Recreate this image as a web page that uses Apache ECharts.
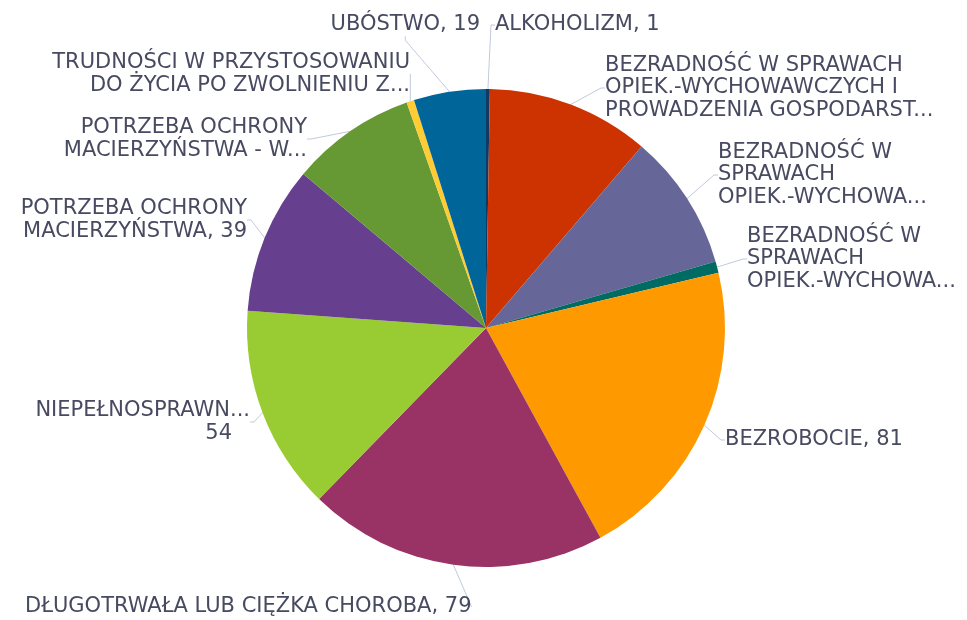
<!DOCTYPE html>
<html>
<head>
<meta charset="utf-8">
<script src="https://cdn.jsdelivr.net/npm/echarts@6/dist/echarts.min.js"></script>
<style>
  html, body { margin: 0; padding: 0; background: #fff; }
  #chart { width: 967px; height: 620px; }
</style>
</head>
<body>
<div id="chart"></div>
<script>
// kategorie
var names = [
  'ALKOHOLIZM',
  'BEZRADNOŚĆ W SPRAWACH OPIEK.-WYCHOWAWCZYCH I PROWADZENIA GOSPODARSTWA DOMOWEGO',
  'BEZRADNOŚĆ W SPRAWACH OPIEK.-WYCHOWAWCZYCH - RODZINY NIEPEŁNE',
  'BEZRADNOŚĆ W SPRAWACH OPIEK.-WYCHOWAWCZYCH - RODZINY WIELODZIETNE',
  'BEZROBOCIE',
  'DŁUGOTRWAŁA LUB CIĘŻKA CHOROBA',
  'NIEPEŁNOSPRAWNOŚĆ',
  'POTRZEBA OCHRONY MACIERZYŃSTWA',
  'POTRZEBA OCHRONY MACIERZYŃSTWA - W TYM WIELODZIETNOŚĆ',
  'TRUDNOŚCI W PRZYSTOSOWANIU DO ŻYCIA PO ZWOLNIENIU Z ZAKŁADU KARNEGO',
  'UBÓSTWO'
];
var values = [1, 43, 36, 3, 81, 79, 54, 39, 33, 2, 19];
// etykiety tak jak sa widoczne (obciete)
var labels = [
  'ALKOHOLIZM, 1',
  'BEZRADNOŚĆ W SPRAWACH\nOPIEK.-WYCHOWAWCZYCH I\nPROWADZENIA GOSPODARST...',
  'BEZRADNOŚĆ W\nSPRAWACH\nOPIEK.-WYCHOWA...',
  'BEZRADNOŚĆ W\nSPRAWACH\nOPIEK.-WYCHOWA...',
  'BEZROBOCIE, 81',
  'DŁUGOTRWAŁA LUB CIĘŻKA CHOROBA, 79',
  '{a|NIEPEŁNOSPRAWN...}\n{b|54}',
  'POTRZEBA OCHRONY\nMACIERZYŃSTWA, 39',
  'POTRZEBA OCHRONY\nMACIERZYŃSTWA - W...',
  'TRUDNOŚCI W PRZYSTOSOWANIU\nDO ŻYCIA PO ZWOLNIENIU Z...',
  'UBÓSTWO, 19'
];
var colors = ['#0f3a63', '#cc3300', '#666699', '#006b63', '#ff9900', '#993366',
              '#99cc33', '#663f8f', '#669933', '#ffcc33', '#006699'];

// polozenie etykiet: [x, y srodka, wyrownanie]
var labelPos = [
  [495, 25, 'left'],
  [605, 88, 'left'],
  [718, 175, 'left'],
  [747, 259, 'left'],
  [725, 440, 'left'],
  [25, 607, 'left'],
  [250, 422, 'right'],
  [247, 220, 'right'],
  [307, 139, 'right'],
  [410, 74, 'right'],
  [480, 25, 'right']
];

var chart = echarts.init(document.getElementById('chart'));

var data = names.map(function (n, i) {
  return { name: n, value: values[i], itemStyle: { color: colors[i] } };
});

var font = 'DejaVu Sans';
var option = {
  animation: false,
  series: [
    {
      type: 'pie',
      center: [486, 328],
      radius: 239,
      startAngle: 90,
      clockwise: true,
      avoidLabelOverlap: false,
      data: data,
      label: {
        show: true,
        position: 'outside',
        color: '#474a60',
        fontFamily: font,
        fontSize: 21,
        lineHeight: 22.5,
        formatter: function (p) { return labels[p.dataIndex]; },
        rich: {
          a: { fontFamily: font, fontSize: 21, lineHeight: 22.5, color: '#474a60' },
          b: { fontFamily: font, fontSize: 21, lineHeight: 22.5, color: '#474a60', padding: [0, 18, 0, 0] }
        }
      },
      labelLine: {
        show: true,
        length: 12,
        length2: 4,
        lineStyle: { color: '#c0cadb', width: 1 }
      },
      labelLayout: function (params) {
        var p = labelPos[params.dataIndex];
        return { x: p[0], y: p[1], align: p[2], verticalAlign: 'middle' };
      }
    }
  ]
};
chart.setOption(option);
</script>
</body>
</html>
